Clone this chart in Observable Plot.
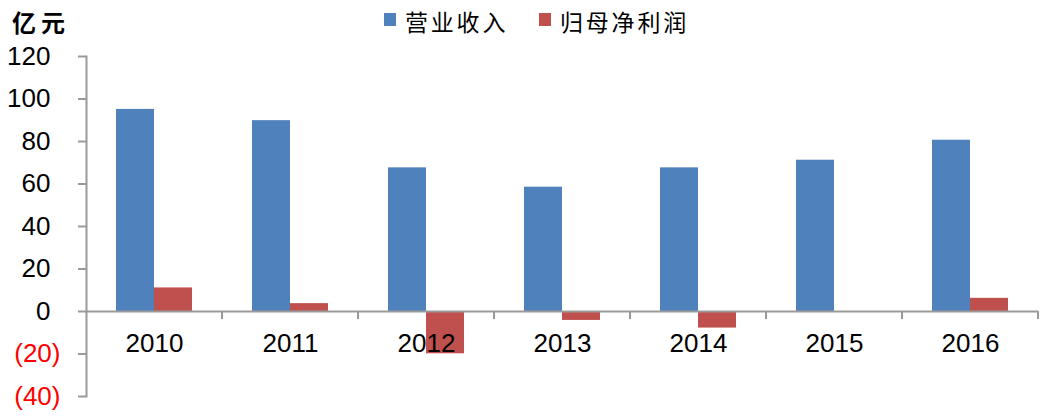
<!DOCTYPE html>
<html>
<head>
<meta charset="utf-8">
<script src="https://cdn.jsdelivr.net/npm/d3@7"></script>
<script src="https://cdn.jsdelivr.net/npm/@observablehq/plot@0.6"></script>
<style>
  html, body { margin: 0; padding: 0; background: #fff; }
  #wrap { position: relative; width: 1050px; height: 417px; overflow: hidden; }
  .lbl { position: absolute; font-family: "Noto Sans CJK SC", sans-serif; font-size: 23px; line-height: 23px; letter-spacing: 2.8px; color: #000; white-space: nowrap; }
  .sw { position: absolute; width: 12px; height: 13px; }
</style>
</head>
<body>
<div id="wrap"></div>
<script>
// ---- data ----
const years = ["2010", "2011", "2012", "2013", "2014", "2015", "2016"];
const seriesNames = ["营业收入", "归母净利润"];
const revenue = [95.1, 89.8, 67.6, 58.5, 67.6, 71.2, 80.6];
const netProfit = [11.1, 3.7, -19.9, -4.2, -7.8, 0, 6.2];
const posTicks = [0, 20, 40, 60, 80, 100, 120];
const negTicks = [-20, -40];
const unitLabel = "亿元";
const colors = ["#4F81BD", "#C0504D"];

const data = [];
years.forEach((y, i) => {
  data.push({ year: y, series: seriesNames[0], value: revenue[i] });
  data.push({ year: y, series: seriesNames[1], value: netProfit[i] });
});
const yearLabels = years.map(y => ({ year: y, base: 0 }));

const axisGray = "#9a9a9a";

const plot = Plot.plot({
  width: 1050,
  height: 417,
  marginTop: 56,
  marginBottom: 21,
  marginLeft: 85,
  marginRight: 12,
  style: { fontFamily: "'Liberation Sans', Arial, sans-serif", fontSize: "26px", color: "#000", background: "#fff" },
  fx: { domain: years, paddingInner: 0, paddingOuter: 0, axis: null, label: null },
  x: { domain: seriesNames, paddingInner: 0, paddingOuter: 0.745, align: 0.5, axis: null, label: null },
  y: { domain: [-40, 120], axis: null },
  color: { domain: seriesNames, range: colors },
  marks: [
    Plot.barY(data, { fx: "year", x: "series", y: "value", fill: "series" }),
    Plot.ruleY([0], { stroke: axisGray, strokeWidth: 2 }),
    Plot.frame({ anchor: "left", stroke: axisGray, strokeWidth: 2, facetAnchor: "left" }),
    Plot.axisY({ ticks: posTicks, tickFormat: d => String(d), tickSize: 8, tickPadding: 28, stroke: axisGray, strokeWidth: 2, fill: "#000", fontSize: 26 }),
    Plot.axisY({ ticks: negTicks, tickFormat: d => "(" + (-d) + ")", tickSize: 8, tickPadding: 18, stroke: axisGray, strokeWidth: 2, fill: "#FF0000", fontSize: 26 }),
    Plot.text(yearLabels, { fx: "year", y: "base", text: "year", dy: 32, fontSize: 26, fill: "#000" })
  ]
});

// category boundary ticks on the zero line, placed from Plot's own scales
const fxs = plot.scale("fx");
const ys = plot.scale("y");
const y0 = ys.apply(0);
const svg = d3.select(plot);
years.forEach(y => {
  const xr = fxs.apply(y) + fxs.bandwidth;
  svg.append("line")
    .attr("x1", xr).attr("x2", xr)
    .attr("y1", y0).attr("y2", y0 + 8)
    .attr("stroke", axisGray).attr("stroke-width", 2);
});

const wrap = document.getElementById("wrap");
wrap.appendChild(plot);

// unit label and legend
function addDiv(cls, text, left, top, extra) {
  const d = document.createElement("div");
  d.className = cls;
  if (text) d.textContent = text;
  d.style.left = left + "px";
  d.style.top = top + "px";
  Object.assign(d.style, extra || {});
  wrap.appendChild(d);
  return d;
}
addDiv("lbl", unitLabel, 12, 10, { fontWeight: "bold", fontSize: "24px", lineHeight: "24px", letterSpacing: "5px" });
addDiv("sw", "", 384, 13, { background: colors[0] });
addDiv("lbl", seriesNames[0], 405, 10);
addDiv("sw", "", 539, 13, { background: colors[1] });
addDiv("lbl", seriesNames[1], 560, 10);
</script>
</body>
</html>
